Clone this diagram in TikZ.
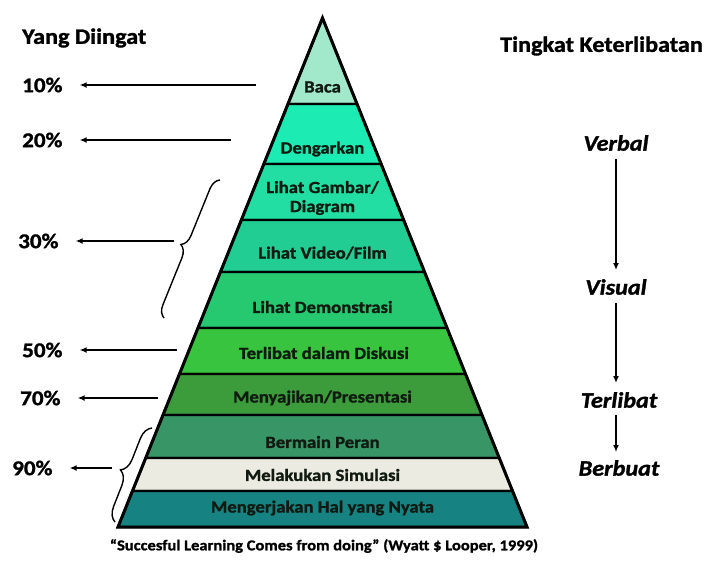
\documentclass[tikz,border=0pt]{standalone}
\usepackage{fontspec}
\setmainfont{Carlito}[FakeStretch=1.1, BoldFeatures={FakeBold=1.3}, BoldItalicFeatures={FakeBold=1.3}]
\usetikzlibrary{arrows.meta,decorations.pathreplacing,calc}
\definecolor{cBaca}{HTML}{A2E8CA}
\definecolor{cDeng}{HTML}{1CEBB4}
\definecolor{cGamb}{HTML}{22DEA2}
\definecolor{cVid}{HTML}{22CD94}
\definecolor{cDemo}{HTML}{26C870}
\definecolor{cDisk}{HTML}{38C43E}
\definecolor{cPres}{HTML}{3C9C3C}
\definecolor{cPeran}{HTML}{389666}
\definecolor{cSim}{HTML}{EBEBE1}
\definecolor{cNyata}{HTML}{168282}
\definecolor{txt}{HTML}{111A11}
\newcommand{\pyrband}[3]{%
  \filldraw[fill=#3, draw=black, line width=2.3pt, line join=miter]
    ({322.5-(#1-18)*0.40177},#1) -- ({322.5+(#1-18)*0.40177},#1) --
    ({322.5+(#2-18)*0.40177},#2) -- ({322.5-(#2-18)*0.40177},#2) -- cycle;}
\tikzset{
  lab/.style={font=\bfseries\fontsize{17}{19}\selectfont, text=txt, inner sep=1pt, align=center},
  pct/.style={font=\bfseries\fontsize{21}{23}\selectfont, anchor=west, inner sep=2pt},
  head/.style={font=\bfseries\fontsize{22}{24}\selectfont, anchor=west, inner sep=2pt},
  lvl/.style={font=\bfseries\itshape\fontsize{22}{24}\selectfont, inner sep=2pt},
  captxt/.style={font=\bfseries\fontsize{15}{17}\selectfont, inner sep=1pt},
  arr/.style={line width=1.8pt, -{Latex[length=7pt,width=6pt]}},
  bracestyle/.style={line width=1.4pt, decorate, decoration={brace, amplitude=#1}}
}
\begin{document}
\begin{tikzpicture}[x=1pt,y=-1pt]
\useasboundingbox (0,0) rectangle (710,565);
\fill[white] (0,0) rectangle (710,565);
% pyramid bands
\filldraw[fill=cBaca, draw=black, line width=2.3pt]
  (322.5,18) -- ({322.5+(104-18)*0.40177},104) -- ({322.5-(104-18)*0.40177},104) -- cycle;
\pyrband{104}{164}{cDeng}
\pyrband{164}{220}{cGamb}
\pyrband{220}{272}{cVid}
\pyrband{272}{328}{cDemo}
\pyrband{328}{374}{cDisk}
\pyrband{374}{415}{cPres}
\pyrband{415}{458}{cPeran}
\pyrband{458}{491}{cSim}
\pyrband{491}{527}{cNyata}
\draw[line width=3pt, line join=miter] (322.5,18) -- (118,527) -- (527,527) -- cycle;
% band labels
\node[lab] (baca) at (322.5,87) {Baca};
\node[lab] (dengar) at (322.5,149) {Dengarkan};
\node[lab] (gambar) at (322.5,198) {Lihat Gambar/\\Diagram};
\node[lab] (video) at (322.5,253) {Lihat Video/Film};
\node[lab] (demo) at (322.5,307) {Lihat Demonstrasi};
\node[lab] (diskusi) at (324,353) {Terlibat dalam Diskusi};
\node[lab] (presen) at (322.5,398) {Menyajikan/Presentasi};
\node[lab] (peran) at (322.5,442) {Bermain Peran};
\node[lab] (simul) at (322.5,475) {Melakukan Simulasi};
\node[lab] (nyata) at (322.5,508) {Mengerjakan Hal yang Nyata};
% left column
\node[head] (yang) at (20,38) {Yang Diingat};
\node[pct] (p10) at (20,85) {10\%};
\node[pct] (p20) at (20,140) {20\%};
\node[pct] (p30) at (16,241) {30\%};
\node[pct] (p50) at (20,350) {50\%};
\node[pct] (p70) at (18,398) {70\%};
\node[pct] (p90) at (10,468) {90\%};
\coordinate (s10) at (256,85);
\coordinate (s20) at (231,140);
\coordinate (s30) at (174,241);
\coordinate (s50) at (177,350);
\coordinate (s70) at (158,398);
\coordinate (s90) at (112,468);
\draw[arr, shorten >=15pt] (s10) -- (p10.east);
\draw[arr, shorten >=15pt] (s20) -- (p20.east);
\draw[arr, shorten >=15pt] (s30) -- (p30.east);
\draw[arr, shorten >=15pt] (s50) -- (p50.east);
\draw[arr, shorten >=15pt] (s70) -- (p70.east);
\draw[arr, shorten >=15pt] (s90) -- (p90.east);
% braces
\coordinate (b30top) at (220,180);
\coordinate (b30bot) at (164,318);
\coordinate (b90top) at (152,428);
\coordinate (b90bot) at (115,522);
\draw[bracestyle=12pt] (b30bot) -- (b30top);
\draw[bracestyle=14pt] (b90bot) -- (b90top);
% right column
\node[head] (tingkat) at (498,46) {Tingkat Keterlibatan};
\node[lvl] (verbal) at (616,143) {Verbal};
\node[lvl] (visual) at (616,287) {Visual};
\node[lvl] (terlibat) at (619,400) {Terlibat};
\node[lvl] (berbuat) at (619,468) {Berbuat};
\draw[arr, shorten <=6pt, shorten >=7pt] (verbal.south) -- (visual.north -| verbal.south);
\draw[arr, shorten <=6pt, shorten >=7pt] (visual.south) -- (terlibat.north -| visual.south);
\draw[arr, shorten <=5pt, shorten >=6pt] (terlibat.south -| visual.south) -- (berbuat.north -| visual.south);
% caption
\node[captxt] (caption) at (324,546) {“Succesful Learning Comes from doing” (Wyatt \$ Looper, 1999)};
\end{tikzpicture}
\end{document}
